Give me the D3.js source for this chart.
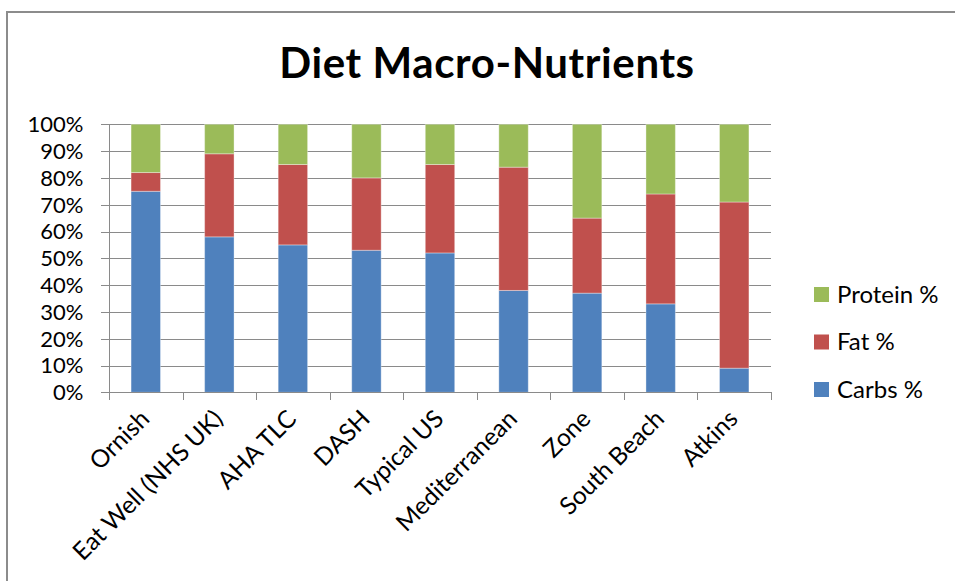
<!DOCTYPE html>
<html>
<head>
<meta charset="utf-8">
<script src="https://cdn.jsdelivr.net/npm/d3@7"></script>
<style>
  html, body { margin: 0; padding: 0; background: #fff; }
  svg { display: block; }
  text { font-family: Lato, "Open Sans", sans-serif; fill: #000; }
</style>
</head>
<body>
<svg id="chart" width="955" height="581"></svg>
<script>
const categories = ["Ornish", "Eat Well (NHS UK)", "AHA TLC", "DASH", "Typical US", "Mediterranean", "Zone", "South Beach", "Atkins"];
const carbs   = [75, 58, 55, 53, 52, 38, 37, 33, 9];
const fat     = [7, 31, 30, 27, 33, 46, 28, 41, 62];
const protein = [18, 11, 15, 20, 15, 16, 35, 26, 29];
const seriesNames = ["Carbs %", "Fat %", "Protein %"];
const seriesColors = ["#4F81BD", "#C0504D", "#9BBB59"];
const yTicks = [0, 10, 20, 30, 40, 50, 60, 70, 80, 90, 100];
const titleText = "Diet Macro-Nutrients";

const svg = d3.select("#chart");

// chart border
svg.append("rect")
  .attr("x", 7).attr("y", 12)
  .attr("width", 1000).attr("height", 1000)
  .attr("fill", "none").attr("stroke", "#8c8c8c").attr("stroke-width", 2);

const plot = { left: 109, right: 771, top: 124.3, bottom: 392.3 };

const x = d3.scaleBand().domain(categories).range([plot.left, plot.right]).paddingInner(0.6).paddingOuter(0.3);
const xb = d3.scaleBand().domain(categories).range([plot.left, plot.right]);
const y = d3.scaleLinear().domain([0, 100]).range([plot.bottom, plot.top]);

// gridlines
svg.append("g")
  .selectAll("line").data(yTicks).join("line")
  .attr("x1", plot.left - 8).attr("x2", plot.right)
  .attr("y1", d => Math.round(y(d)) + 0.5).attr("y2", d => Math.round(y(d)) + 0.5)
  .attr("stroke", "#8a8a8a").attr("stroke-width", 1);

// y labels
svg.append("g")
  .selectAll("text").data(yTicks).join("text")
  .attr("x", 83.5).attr("y", d => y(d))
  .attr("dy", "0.36em")
  .attr("text-anchor", "end")
  .style("font-size", "22px")
  .text(d => d + "%");

// stacked data
const rows = categories.map((c, i) => ({ cat: c, "Carbs %": carbs[i], "Fat %": fat[i], "Protein %": protein[i] }));
const stack = d3.stack().keys(seriesNames)(rows);

svg.append("g")
  .selectAll("g").data(stack).join("g")
  .attr("fill", (d, i) => seriesColors[i])
  .selectAll("rect").data(d => d).join("rect")
  .attr("x", d => x(d.data.cat))
  .attr("width", x.bandwidth())
  .attr("y", d => y(d[1]))
  .attr("height", d => y(d[0]) - y(d[1]))
  .attr("stroke", "rgba(255,255,255,0.35)")
  .attr("stroke-width", 1);

// axes lines
svg.append("line")
  .attr("x1", plot.left + 0.5).attr("x2", plot.left + 0.5)
  .attr("y1", plot.top).attr("y2", plot.bottom)
  .attr("stroke", "#8a8a8a");
svg.append("line")
  .attr("x1", plot.left).attr("x2", plot.right)
  .attr("y1", Math.round(plot.bottom) + 0.5).attr("y2", Math.round(plot.bottom) + 0.5)
  .attr("stroke", "#8a8a8a");

// x tick marks at category boundaries
const bounds = categories.map(c => xb(c)).concat([plot.right]);
svg.append("g")
  .selectAll("line").data(bounds).join("line")
  .attr("x1", d => Math.round(d) + 0.5).attr("x2", d => Math.round(d) + 0.5)
  .attr("y1", Math.round(plot.bottom)).attr("y2", Math.round(plot.bottom) + 8)
  .attr("stroke", "#8a8a8a");

// x labels rotated
svg.append("g")
  .selectAll("text").data(categories).join("text")
  .attr("transform", d => `translate(${xb(d) + xb.bandwidth() / 2 - 1},${plot.bottom + 22}) rotate(-45)`)
  .attr("text-anchor", "end")
  .attr("dy", "0.35em")
  .style("font-size", "24.5px")
  .text(d => d);

// title
svg.append("text")
  .attr("x", 487).attr("y", 78)
  .attr("text-anchor", "middle")
  .style("font-size", "42px").style("font-weight", "bold")
  .style("letter-spacing", "0.6px")
  .text(titleText);

// legend (reverse order: Protein, Fat, Carbs)
const legendOrder = [2, 1, 0];
const lg = svg.append("g");
legendOrder.forEach((si, k) => {
  const cy = 294 + k * 47.5;
  lg.append("rect")
    .attr("x", 814).attr("y", cy - 7).attr("width", 15).attr("height", 15)
    .attr("fill", seriesColors[si]);
  lg.append("text")
    .attr("x", 837).attr("y", cy).attr("dy", "0.36em")
    .style("font-size", "24px")
    .text(seriesNames[si]);
});
</script>
</body>
</html>
